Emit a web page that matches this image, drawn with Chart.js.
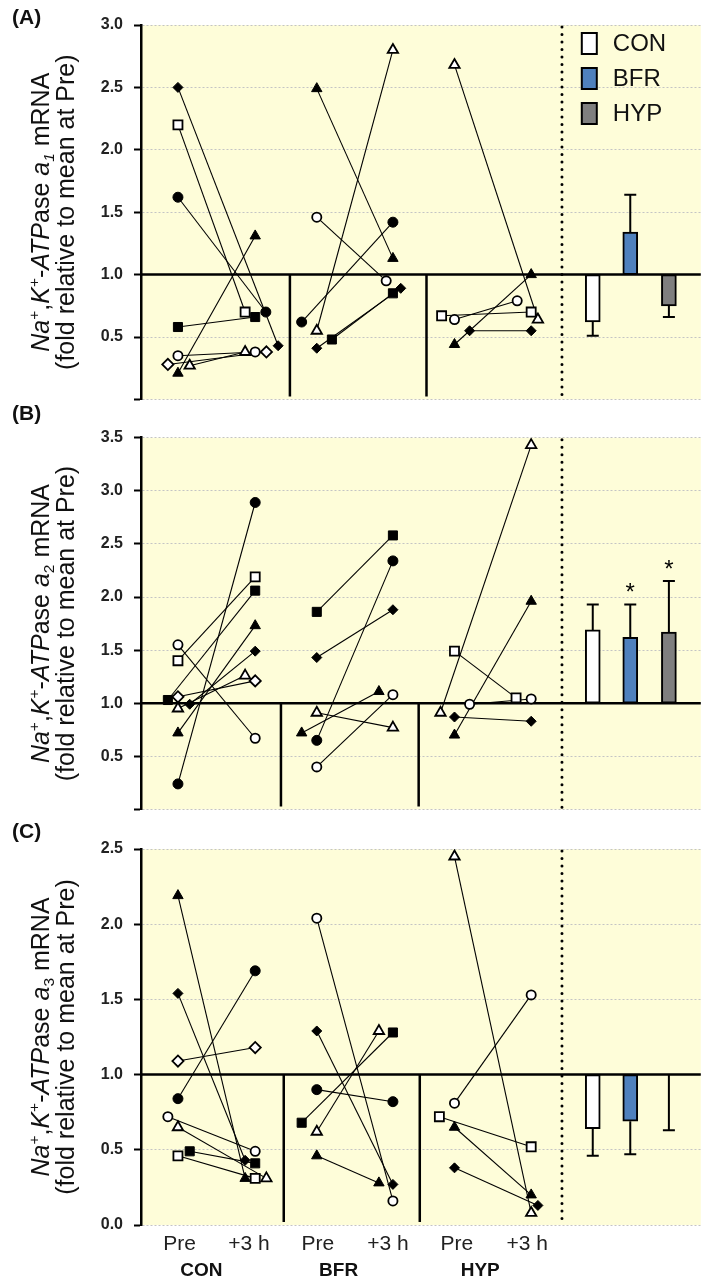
<!DOCTYPE html>
<html>
<head>
<meta charset="utf-8">
<script src="https://cdn.jsdelivr.net/npm/chart.js@4.4.1/dist/chart.umd.min.js"></script>
<style>
  body { margin: 0; background: #fff; }
  canvas { position: absolute; left: 0; }
</style>
</head>
<body>
<canvas id="cA" width="709" height="420" style="top:0px"></canvas>
<canvas id="cB" width="709" height="430" style="top:400px"></canvas>
<canvas id="cC" width="709" height="472" style="top:815px"></canvas>
<script>
const FONT = 'Arial, "Liberation Sans", Helvetica, sans-serif';

// subjects, same order in every value array
const MARKERS = ['fc', 'oc', 'fs', 'os', 'ft', 'ot', 'fd', 'od'];
const GROUPS = ['CON', 'BFR', 'HYP'];
const BAR_COLORS = ['#ffffff', '#4f81bd', '#7f7f7f'];

// x positions (0-100 axis)
const PRE_X = [6.6, 31.4, 56.0];
const POST_X = [20.4, 45.0, 69.7];
const BAR_X = [80.7, 87.4, 94.3];
const X_TICKS = [6.9, 19.3, 31.6, 44.1, 56.4, 69.0];
const X_TICK_LABELS = ['Pre', '+3 h', 'Pre', '+3 h', 'Pre', '+3 h'];
const GROUP_LABEL_X = [10.8, 35.3, 60.6];

// ---- (A) a1 ----
const a1ConPre  = [1.62, 0.35, 0.58, 2.20, 0.21, 0.27, 2.50, 0.28];
const a1ConPost = [0.70, 0.38, 0.66, 0.70, 1.31, 0.38, 0.43, 0.38];
const a1BfrPre  = [0.62, 1.46, 0.48, null, 2.49, 0.55, 0.41, null];
const a1BfrPost = [1.42, 0.95, 0.85, null, 1.13, 2.80, 0.89, null];
const a1HypPre  = [null, 0.64, null, 0.67, 0.44, 2.68, 0.55, null];
const a1HypPost = [null, 0.79, null, 0.70, 1.00, 0.64, 0.55, null];
const a1Means = [0.62, 1.34, 0.75];
const a1ErrEnds = [0.51, 1.64, 0.66];
// marker nudges so symbols don't sit on top of each other
const a1Dx = [
  [[0, 0, 0, 0, 0, 2.1, 0, -1.8], [1.9, 0, 0, -1.8, 0, -1.8, 4.1, 2.0]],
  [[-2.7, 0, 2.7, 0, 0, 0, 0, 0], [0, -1.2, 0, 0, 0, 0, 1.4, 0]],
  [[0, 0, 0, -2.3, 0, 0, 2.7, 0], [0, -2.5, 0, 0, 0, 1.2, 0, 0]]
];

// ---- (B) a2 ----
const a2ConPre  = [0.24, 1.55, 1.03, 1.40, 0.72, 0.95, 0.99, 1.06];
const a2ConPost = [2.89, 0.67, 2.06, 2.19, 1.73, 1.26, 1.49, 1.21];
const a2BfrPre  = [0.65, 0.40, 1.86, null, 0.72, 0.91, 1.43, null];
const a2BfrPost = [2.34, 1.08, 2.58, null, 1.11, 0.77, 1.88, null];
const a2HypPre  = [null, 0.99, null, 1.49, 0.70, 0.91, 0.87, null];
const a2HypPost = [null, 1.04, null, 1.05, 1.96, 3.43, 0.83, null];
const a2Means = [1.69, 1.62, 1.67];
const a2ErrEnds = [1.93, 1.93, 2.15];
const a2Stars = [false, true, true];
const a2Dx = [
  [[0, 0, -1.8, 0, 0, 0, 2.1, 0], [0, 0, 0, 0, 0, -1.8, 0, 0]],
  [[0, 0, 0, 0, -2.7, 0, 0, 0], [0, 0, 0, 0, -2.5, 0, 0, 0]],
  [[0, 2.7, 0, 0, 0, -2.5, 0, 0], [0, 0, 0, -2.7, 0, 0, 0, 0]]
];

// ---- (C) a3 ----
const a3ConPre  = [0.84, 0.72, 0.49, 0.46, 2.19, 0.65, 1.54, 1.09];
const a3ConPost = [1.69, 0.49, 0.41, 0.31, 0.31, 0.31, 0.43, 1.18];
const a3BfrPre  = [0.90, 2.04, 0.68, null, 0.46, 0.62, 1.29, null];
const a3BfrPost = [0.82, 0.16, 1.28, null, 0.28, 1.29, 0.27, null];
const a3HypPre  = [null, 0.81, null, 0.72, 0.65, 2.45, 0.38, null];
const a3HypPost = [null, 1.53, null, 0.52, 0.20, 0.08, 0.13, null];
const a3Means = [0.64, 0.69, 1.00];
const a3ErrEnds = [0.46, 0.47, 0.63];
const a3Dx = [
  [[0, -1.8, 2.1, 0, 0, 0, 0, 0], [0, 0, 0, 0, -1.8, 2.0, -1.8, 0]],
  [[0, 0, -2.7, 0, 0, 0, 0, 0], [0, 0, 0, 0, -2.5, -2.5, 0, 0]],
  [[0, 0, 0, -2.7, 0, 0, 0, 0], [0, 0, 0, 0, 0, 0, 1.2, 0]]
];

const MARK_STYLE = {
  fc: { s: 'circle', r: 5, f: '#000', b: 1 },
  oc: { s: 'circle', r: 4.6, f: '#fff', b: 1.8 },
  fs: { s: 'rect', r: 6.4, f: '#000', b: 1 },
  os: { s: 'rect', r: 6.4, f: '#fff', b: 1.8 },
  ft: { s: 'triangle', r: 6, f: '#000', b: 1 },
  ot: { s: 'triangle', r: 6, f: '#fff', b: 1.8 },
  fd: { s: 'rectRot', r: 5, f: '#000', b: 1 },
  od: { s: 'rectRot', r: 5.6, f: '#fff', b: 1.8 }
};

function buildDatasets(pre, post, dx, means) {
  const sets = [];
  for (let g = 0; g < 3; g++) {
    MARKERS.forEach((m, k) => {
      if (pre[g][k] == null) return;
      const st = MARK_STYLE[m];
      const pts = [
        { x: PRE_X[g] + dx[g][0][k], y: pre[g][k] },
        { x: POST_X[g] + dx[g][1][k], y: post[g][k] }
      ];
      sets.push({ type: 'line', data: pts, order: 2, borderColor: '#000', borderWidth: 1.1,
        pointRadius: 0, fill: false, tension: 0 });
      sets.push({ type: 'line', data: pts, order: 1, showLine: false,
        pointStyle: st.s, pointRadius: st.r, pointBackgroundColor: st.f,
        pointBorderColor: '#000', pointBorderWidth: st.b });
    });
  }
  sets.push({
    type: 'bar', order: 3,
    data: BAR_X.map((x, i) => ({ x: x, y: [1, means[i]] })),
    backgroundColor: BAR_COLORS, borderColor: '#000', borderWidth: 2,
    borderSkipped: false, barThickness: 15
  });
  return sets;
}

function drawRich(ctx, segs, xBase, yCenter, size) {
  ctx.save();
  ctx.translate(xBase, yCenter);
  ctx.rotate(-Math.PI / 2);
  ctx.fillStyle = '#111';
  ctx.textBaseline = 'alphabetic';
  ctx.textAlign = 'left';
  const fontOf = s => (s.it ? 'italic ' : '') + (s.pos ? size * 0.62 : size) + 'px ' + FONT;
  let total = 0;
  segs.forEach(s => { ctx.font = fontOf(s); total += ctx.measureText(s.t).width; });
  let cx = -total / 2;
  segs.forEach(s => {
    ctx.font = fontOf(s);
    const dy = s.pos === 'sup' ? -size * 0.42 : s.pos === 'sub' ? size * 0.2 : 0;
    ctx.fillText(s.t, cx, dy);
    cx += ctx.measureText(s.t).width;
  });
  ctx.restore();
}

function makePanelPlugin(cfg) {
  return {
    id: 'panel',
    beforeDraw(chart) {
      const { ctx, chartArea: a } = chart;
      ctx.save();
      ctx.fillStyle = '#fefdd9';
      ctx.fillRect(a.left, a.top, a.right - a.left, a.bottom - a.top);
      ctx.restore();
    },
    beforeDatasetsDraw(chart) {
      const { ctx, chartArea: a, scales: { x, y } } = chart;
      const y1 = y.getPixelForValue(1);
      ctx.save();
      ctx.strokeStyle = '#000';
      ctx.lineWidth = 2.5;
      ctx.beginPath();
      ctx.moveTo(a.left, y1);
      ctx.lineTo(a.right, y1);
      cfg.dividers.forEach(v => {
        const px = x.getPixelForValue(v);
        ctx.moveTo(px, y1);
        ctx.lineTo(px, a.bottom - 3);
      });
      ctx.stroke();
      const dxp = x.getPixelForValue(75.2);
      ctx.lineWidth = 3;
      ctx.lineCap = 'round';
      ctx.setLineDash([0, 7.5]);
      ctx.beginPath();
      ctx.moveTo(dxp, a.top + 2);
      ctx.lineTo(dxp, a.bottom - 2);
      ctx.stroke();
      ctx.restore();
    },
    afterDatasetsDraw(chart) {
      const { ctx, chartArea: a, scales: { x, y } } = chart;
      ctx.save();
      // error bars
      ctx.strokeStyle = '#000';
      ctx.lineWidth = 2;
      BAR_X.forEach((bx, i) => {
        const px = x.getPixelForValue(bx);
        const yFrom = y.getPixelForValue(cfg.means[i]);
        const yTo = y.getPixelForValue(cfg.err[i]);
        ctx.beginPath();
        ctx.moveTo(px, yFrom);
        ctx.lineTo(px, yTo);
        ctx.moveTo(px - 6, yTo);
        ctx.lineTo(px + 6, yTo);
        ctx.stroke();
        if (cfg.stars && cfg.stars[i]) {
          ctx.fillStyle = '#000';
          ctx.font = '24px ' + FONT;
          ctx.textAlign = 'center';
          ctx.textBaseline = 'alphabetic';
          ctx.fillText('*', px, yTo - 4);
        }
      });
      // legend (panel A)
      if (cfg.legend) {
        GROUPS.forEach((g, i) => {
          const top = a.top + 8 + i * 35;
          ctx.fillStyle = BAR_COLORS[i];
          ctx.fillRect(a.right - 119, top, 15, 21);
          ctx.lineWidth = 2;
          ctx.strokeRect(a.right - 119, top, 15, 21);
          ctx.fillStyle = '#111';
          ctx.font = '24px ' + FONT;
          ctx.textAlign = 'left';
          ctx.textBaseline = 'middle';
          ctx.fillText(g, a.right - 88, top + 11);
        });
      }
      // panel letter
      ctx.fillStyle = '#111';
      ctx.font = 'bold 21px ' + FONT;
      ctx.textAlign = 'left';
      ctx.textBaseline = 'middle';
      ctx.fillText(cfg.letter, 12, cfg.letterY);
      // group names under the x axis
      if (cfg.groupLabels) {
        ctx.font = 'bold 19px ' + FONT;
        ctx.textAlign = 'center';
        GROUPS.forEach((g, i) => ctx.fillText(g, x.getPixelForValue(GROUP_LABEL_X[i]), a.bottom + 46));
      }
      ctx.restore();
      // y-axis title
      const yc = (a.top + a.bottom) / 2;
      drawRich(ctx, [
        { t: 'Na', it: true }, { t: '+', pos: 'sup' }, { t: ',' },
        { t: 'K', it: true }, { t: '+', pos: 'sup' }, { t: '-' },
        { t: 'ATP', it: true }, { t: 'ase' }, { t: ' ' },
        { t: 'a', it: true }, { t: cfg.sub, pos: 'sub', it: cfg.subItalic }, { t: ' mRNA' }
      ], 49, yc, 25);
      drawRich(ctx, [{ t: '(fold relative to mean at Pre)' }], 74, yc, 25);
    }
  };
}

function makeChart(id, cfg) {
  const xScale = cfg.xLabels ? {
    type: 'linear', min: 0, max: 100, offset: false,
    afterBuildTicks: s => { s.ticks = X_TICKS.map(v => ({ value: v })); },
    afterFit: s => { s.height = 62; },
    ticks: { callback: (v, i) => X_TICK_LABELS[i], font: { size: 21, family: FONT },
      color: '#222', padding: 7, maxRotation: 0, autoSkip: false },
    grid: { display: false, drawTicks: false, offset: false },
    border: { display: false }
  } : { type: 'linear', min: 0, max: 100, offset: false, display: false, grid: { offset: false } };

  new Chart(document.getElementById(id), {
    type: 'line',
    data: { datasets: buildDatasets(cfg.pre, cfg.post, cfg.dx, cfg.means) },
    options: {
      responsive: false,
      animation: false,
      events: [],
      layout: { padding: { left: 0, right: 4, top: cfg.padTop, bottom: cfg.padBottom } },
      plugins: { legend: { display: false }, tooltip: { enabled: false } },
      scales: {
        x: xScale,
        y: {
          type: 'linear', min: 0, max: cfg.ymax,
          afterFit: s => { s.width = 141; },
          ticks: {
            stepSize: 0.5,
            callback: v => (cfg.hideZero && v === 0) ? '' : v.toFixed(1),
            font: { size: 16, weight: 'bold', family: FONT },
            color: '#222', padding: 11
          },
          grid: { color: '#c4c4c4', lineWidth: 1, tickColor: '#000', tickWidth: 2, tickLength: 7 },
          border: { color: '#000', width: 2.5, dash: [2, 2] }
        }
      }
    },
    plugins: [makePanelPlugin(cfg)]
  });
}

makeChart('cA', {
  pre: [a1ConPre, a1BfrPre, a1HypPre], post: [a1ConPost, a1BfrPost, a1HypPost], dx: a1Dx,
  means: a1Means, err: a1ErrEnds, ymax: 3, hideZero: true,
  padTop: 25, padBottom: 18.3, dividers: [26.6, 51.0],
  letter: '(A)', letterY: 18, sub: '1', subItalic: true, legend: true
});
makeChart('cB', {
  pre: [a2ConPre, a2BfrPre, a2HypPre], post: [a2ConPost, a2BfrPost, a2HypPost], dx: a2Dx,
  means: a2Means, err: a2ErrEnds, stars: a2Stars, ymax: 3.5, hideZero: true,
  padTop: 37.7, padBottom: 17, dividers: [25.0, 49.6],
  letter: '(B)', letterY: 14, sub: '2', subItalic: false
});
makeChart('cC', {
  pre: [a3ConPre, a3BfrPre, a3HypPre], post: [a3ConPost, a3BfrPost, a3HypPost], dx: a3Dx,
  means: a3Means, err: a3ErrEnds, ymax: 2.5, hideZero: false,
  padTop: 34, padBottom: 0, dividers: [25.5, 49.8],
  letter: '(C)', letterY: 17, sub: '3', subItalic: false,
  xLabels: true, groupLabels: true
});
</script>
</body>
</html>
